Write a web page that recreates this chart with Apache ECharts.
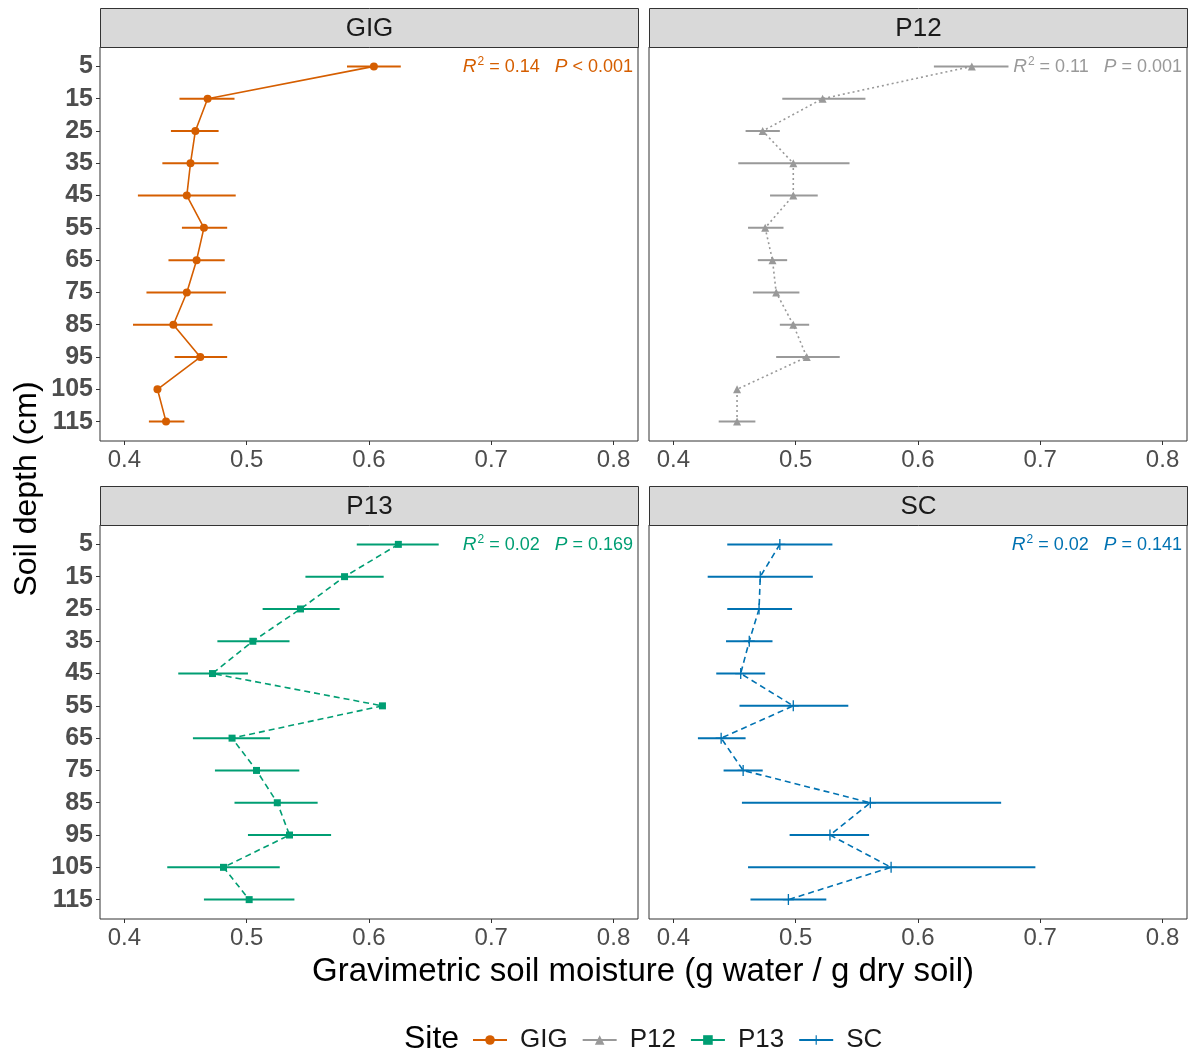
<!DOCTYPE html>
<html>
<head>
<meta charset="utf-8">
<title>Gravimetric soil moisture by depth</title>
<script src="https://cdn.jsdelivr.net/npm/echarts@6/dist/echarts.min.js"></script>
<style>
  html, body { margin: 0; padding: 0; background: #fff; }
  #chart { width: 1191px; height: 1055px; }
</style>
</head>
<body>
<div id="chart"></div>
<script>
// Soil depth levels (cm)
const depths = [5, 15, 25, 35, 45, 55, 65, 75, 85, 95, 105, 115];
const xTicks = [0.4, 0.5, 0.6, 0.7, 0.8];
const sites = ['GIG', 'P12', 'P13', 'SC'];

// Mean gravimetric moisture and error-bar limits per site (null = no bar)
const gigMean = [0.604, 0.468, 0.458, 0.454, 0.451, 0.465, 0.459, 0.451, 0.440, 0.462, 0.427, 0.434];
const gigLow  = [0.582, 0.445, 0.438, 0.431, 0.411, 0.447, 0.436, 0.418, 0.407, 0.441, null, 0.420];
const gigHigh = [0.626, 0.490, 0.477, 0.477, 0.491, 0.484, 0.482, 0.483, 0.472, 0.484, null, 0.449];

const p12Mean = [0.644, 0.522, 0.473, 0.498, 0.498, 0.475, 0.481, 0.484, 0.498, 0.509, 0.452, 0.452];
const p12Low  = [0.613, 0.489, 0.459, 0.453, 0.479, 0.461, 0.469, 0.465, 0.487, 0.484, null, 0.437];
const p12High = [0.674, 0.557, 0.487, 0.544, 0.518, 0.490, 0.493, 0.503, 0.511, 0.536, null, 0.467];

const p13Mean = [0.624, 0.580, 0.544, 0.505, 0.472, 0.611, 0.488, 0.508, 0.525, 0.535, 0.481, 0.502];
const p13Low  = [0.590, 0.548, 0.513, 0.476, 0.444, null, 0.456, 0.474, 0.490, 0.501, 0.435, 0.465];
const p13High = [0.657, 0.612, 0.576, 0.535, 0.501, null, 0.519, 0.543, 0.558, 0.569, 0.527, 0.539];

const scMean = [0.487, 0.471, 0.470, 0.462, 0.455, 0.498, 0.439, 0.457, 0.561, 0.528, 0.578, 0.494];
const scLow  = [0.444, 0.428, 0.444, 0.443, 0.435, 0.454, 0.420, 0.441, 0.456, 0.495, 0.461, 0.463];
const scHigh = [0.530, 0.514, 0.497, 0.481, 0.475, 0.543, 0.459, 0.473, 0.668, 0.560, 0.696, 0.525];

// Fit statistics shown in each panel
const r2Labels = ['0.14', '0.11', '0.02', '0.02'];
const pLabels  = ['< 0.001', '= 0.001', '= 0.169', '= 0.141'];

const means = [gigMean, p12Mean, p13Mean, scMean];
const lows  = [gigLow, p12Low, p13Low, scLow];
const highs = [gigHigh, p12High, p13High, scHigh];

const colors = ['#D55E00', '#999999', '#009E73', '#0072B2'];
const lineTypes = ['solid', [2, 3], [6, 4], [6, 4]];
const symbols = ['circle', 'triangle', 'rect',
  'path://M4.4,0h1.2v10h-1.2z M0,4.4h10v1.2h-10z'];
const symbolSizes = [8, 8, 7, 11];

const FONT = '"Liberation Sans", Arial, Helvetica, sans-serif';

// Panel geometry: 2 x 2 facets
const panelW = 538, panelH = 394, stripH = 39;
const panelLeft = [100, 649, 100, 649];
const panelTop  = [47, 47, 525, 525];

const grids = [], xAxes = [], yAxes = [], series = [], graphics = [];

sites.forEach((site, i) => {
  grids.push({
    left: panelLeft[i], top: panelTop[i], width: panelW, height: panelH,
    show: true, borderColor: '#333333', borderWidth: 1, backgroundColor: '#ffffff'
  });
  xAxes.push({
    type: 'value', gridIndex: i, min: 0.38, max: 0.82, position: 'bottom',
    splitLine: { show: false },
    axisLine: { show: false, onZero: false },
    axisTick: { show: true, length: 4, lineStyle: { color: '#333333', width: 1 }, customValues: xTicks },
    axisLabel: {
      show: true, customValues: xTicks, margin: 7,
      fontFamily: FONT, fontSize: 24, color: '#4d4d4d',
      formatter: v => v.toFixed(1)
    }
  });
  const leftCol = (i % 2 === 0);
  yAxes.push({
    type: 'value', gridIndex: i, min: -1, max: 121, inverse: true, position: 'left',
    splitLine: { show: false },
    axisLine: { show: false, onZero: false },
    axisTick: { show: leftCol, length: 4, lineStyle: { color: '#333333', width: 1 }, customValues: depths },
    axisLabel: {
      show: leftCol, customValues: depths, margin: 7,
      fontFamily: FONT, fontSize: 25, fontWeight: 'bold', color: '#4d4d4d'
    }
  });

  // horizontal error bars
  const errData = depths.map((d, k) => [lows[i][k], highs[i][k], d])
    .filter(r => r[0] !== null && r[1] !== null);
  series.push({
    type: 'custom', name: site + ' error', xAxisIndex: i, yAxisIndex: i,
    data: errData, z: 2, silent: true,
    encode: { x: [0, 1], y: 2 },
    renderItem: (params, api) => {
      const a = api.coord([api.value(0), api.value(2)]);
      const b = api.coord([api.value(1), api.value(2)]);
      return {
        type: 'line',
        shape: { x1: a[0], y1: a[1], x2: b[0], y2: b[1] },
        style: { stroke: colors[i], lineWidth: 2 }
      };
    }
  });

  // mean profile
  series.push({
    type: 'line', name: site, xAxisIndex: i, yAxisIndex: i,
    data: depths.map((d, k) => [means[i][k], d]),
    z: 3, silent: true,
    symbol: symbols[i], symbolSize: symbolSizes[i], showSymbol: true,
    itemStyle: { color: colors[i], borderWidth: 0 },
    lineStyle: { color: colors[i], width: 1.6, type: lineTypes[i] },
    emphasis: { disabled: true }
  });

  // facet strip
  graphics.push({
    type: 'group', left: panelLeft[i], top: panelTop[i] - stripH,
    children: [
      { type: 'rect', shape: { x: 0, y: 0, width: panelW, height: stripH },
        style: { fill: '#D9D9D9', stroke: '#333333', lineWidth: 1 } },
      { type: 'text', x: panelW / 2, y: stripH / 2 + 1,
        style: { text: site, fontFamily: FONT, fontSize: 26, fill: '#1a1a1a',
                 align: 'center', verticalAlign: 'middle' } }
    ]
  });

  // R² / P annotation
  graphics.push({
    type: 'text', x: panelLeft[i] + panelW - 5, y: panelTop[i] + 20,
    style: {
      text: '{it|R}{sup|2}{n| = ' + r2Labels[i] + '   }{it|P}{n| ' + pLabels[i] + '}',
      align: 'right', verticalAlign: 'middle', fill: colors[i],
      fontFamily: FONT, fontSize: 18,
      rich: {
        it: { fontFamily: FONT, fontSize: 19, fontStyle: 'italic', fill: colors[i] },
        n:  { fontFamily: FONT, fontSize: 18, fill: colors[i] },
        sup: { fontFamily: FONT, fontSize: 12, fill: colors[i], padding: [0, 0, 11, 1] }
      }
    }
  });
});

// axis titles and legend title
graphics.push({
  type: 'text', x: 643, y: 972,
  style: { text: 'Gravimetric soil moisture (g water / g dry soil)', fontFamily: FONT,
           fontSize: 33, fill: '#000000', align: 'center', verticalAlign: 'middle' }
});
graphics.push({
  type: 'text', x: 27, y: 489, rotation: Math.PI / 2,
  style: { text: 'Soil depth (cm)', fontFamily: FONT,
           fontSize: 32, fill: '#000000', align: 'center', verticalAlign: 'middle' }
});
graphics.push({
  type: 'text', x: 404, y: 1039,
  style: { text: 'Site', fontFamily: FONT, fontSize: 32, fill: '#000000',
           align: 'left', verticalAlign: 'middle' }
});

const chart = echarts.init(document.getElementById('chart'), null, { renderer: 'canvas' });
chart.setOption({
  animation: false,
  backgroundColor: '#ffffff',
  grid: grids,
  xAxis: xAxes,
  yAxis: yAxes,
  series: series,
  graphic: graphics,
  legend: {
    data: sites, left: 467, top: 1022, orient: 'horizontal',
    itemWidth: 34, itemHeight: 12, itemGap: 14,
    selectedMode: false,
    lineStyle: { type: 'solid' },
    textStyle: { fontFamily: FONT, fontSize: 26, color: '#1a1a1a', padding: [0, 0, 0, 8] }
  }
});
</script>
</body>
</html>
